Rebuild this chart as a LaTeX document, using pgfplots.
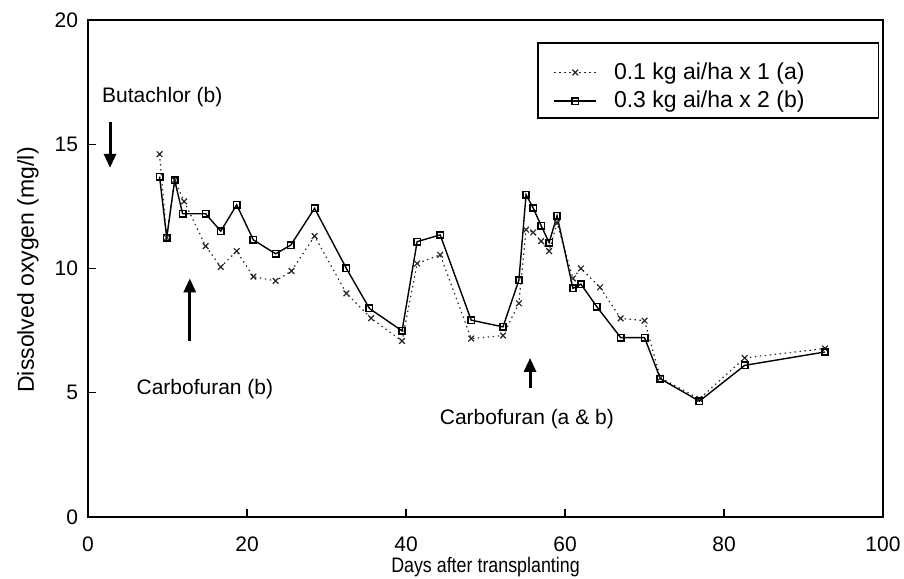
\documentclass[border=0pt]{standalone}
\usepackage{fontspec}
\setmainfont{Liberation Sans}
\newfontfamily\narrowfont[FakeStretch=0.85]{Liberation Sans}
\usepackage{pgfplots}
\pgfplotsset{compat=1.18}
\usetikzlibrary{arrows.meta}
\begin{document}
\begin{tikzpicture}
\begin{axis}[
  scale only axis,
  width=397.5pt, height=248.5pt,
  xmin=0, xmax=100, ymin=0, ymax=20,
  xtick={0,20,40,60,80,100},
  ytick={0,5,10,15,20},
  tick pos=left,
  tick align=inside,
  major tick length=4pt,
  axis line style={line width=0.7pt},
  tick style={line width=0.6pt, black},
  /pgf/number format/assume math mode=true,
  ticklabel style={font=\fontsize{10.5}{12}\selectfont},
  xticklabel style={yshift=-6.5pt},
  yticklabel style={xshift=-1.5pt},
  xlabel={Days after transplanting},
  ylabel={Dissolved oxygen (mg/l)},
  xlabel style={at={(axis description cs:0.5,-0.1006)}, anchor=center, font=\narrowfont\fontsize{10.5}{12}\selectfont},
  ylabel style={at={(axis description cs:-0.0755,0.497)}, anchor=center, rotate=0, font=\fontsize{11.5}{13}\selectfont},
  legend style={at={(rel axis cs:0.585,0.915)}, anchor=north west, draw=none, fill=none,
    inner sep=0pt, row sep=4.5pt, column sep=8.5pt,
    nodes={inner sep=0pt, font=\fontsize{11.5}{13}\selectfont}},
  legend cell align=left,
  legend image code/.code={\draw[mark repeat=2,mark phase=2,#1] plot coordinates {(0cm,0cm) (0.37cm,0cm) (0.74cm,0cm)};},
]
\addplot[black!85, line width=0.6pt, dash pattern=on 0.7pt off 1.8pt, mark=x, mark size=2pt, mark options={solid, line width=0.6pt}] coordinates {
(9.0,14.6) (9.9,11.24) (10.9,13.55) (12.1,12.7) (14.8,10.9) (16.7,10.06) (18.7,10.7)
(20.8,9.67) (23.6,9.5) (25.6,9.9) (28.5,11.3) (32.5,9.0) (35.6,8.0) (39.5,7.08)
(41.4,10.2) (44.3,10.55) (48.2,7.18) (52.2,7.3) (54.2,8.6) (55.1,11.56) (56.0,11.45)
(57.0,11.1) (58.0,10.7) (59.0,11.83) (61.0,9.6) (62.0,10.0) (64.4,9.24) (67.0,7.99)
(70.0,7.9) (72.0,5.6) (76.9,4.75) (82.6,6.4) (92.7,6.78)
};
\addlegendentry{0.1 kg ai/ha x 1 (a)}
\addplot[black, line width=0.7pt, mark=square, mark size=1.6pt, mark options={solid, line width=0.8pt}] coordinates {
(9.0,13.7) (9.9,11.24) (10.9,13.55) (11.9,12.2) (14.8,12.2) (16.7,11.5) (18.7,12.56)
(20.8,11.15) (23.6,10.59) (25.5,10.94) (28.5,12.42) (32.5,10.0) (35.4,8.39) (39.5,7.49)
(41.4,11.08) (44.3,11.35) (48.2,7.92) (52.2,7.65) (54.2,9.53) (55.1,12.97) (56.0,12.43)
(57.0,11.72) (58.0,11.04) (59.0,12.12) (61.0,9.2) (62.0,9.37) (64.0,8.46) (67.0,7.22)
(70.0,7.22) (72.0,5.56) (76.9,4.66) (82.6,6.1) (92.7,6.64)
};
\addlegendentry{0.3 kg ai/ha x 2 (b)}
% legend frame
\draw[line width=0.7pt] (rel axis cs:0.566,0.954) rectangle (rel axis cs:0.994,0.803);
% annotations
\node[anchor=west, font=\fontsize{10.5}{12}\selectfont] at (axis cs:0.9,16.9) {Butachlor (b)};
\draw[line width=1.5pt, -{Triangle[length=7pt,width=6pt]}] (axis cs:2.77,15.9) -- (axis cs:2.77,14.05);
\draw[line width=1.5pt, -{Triangle[length=7pt,width=6pt]}] (axis cs:12.8,7.1) -- (axis cs:12.8,9.6);
\node[font=\fontsize{10.5}{12}\selectfont] at (axis cs:14.7,5.15) {Carbofuran (b)};
\draw[line width=1.5pt, -{Triangle[length=7pt,width=6pt]}] (axis cs:55.6,5.2) -- (axis cs:55.6,6.4);
\node[font=\fontsize{10.5}{12}\selectfont] at (axis cs:55.2,3.95) {Carbofuran (a \& b)};
\coordinate (bbl) at (rel axis cs:-0.1107,-0.1247);
\coordinate (btr) at (rel axis cs:1.0264,1.0402);
\end{axis}
\pgfresetboundingbox
\path[use as bounding box] (bbl) rectangle (btr);
\end{tikzpicture}
\end{document}
